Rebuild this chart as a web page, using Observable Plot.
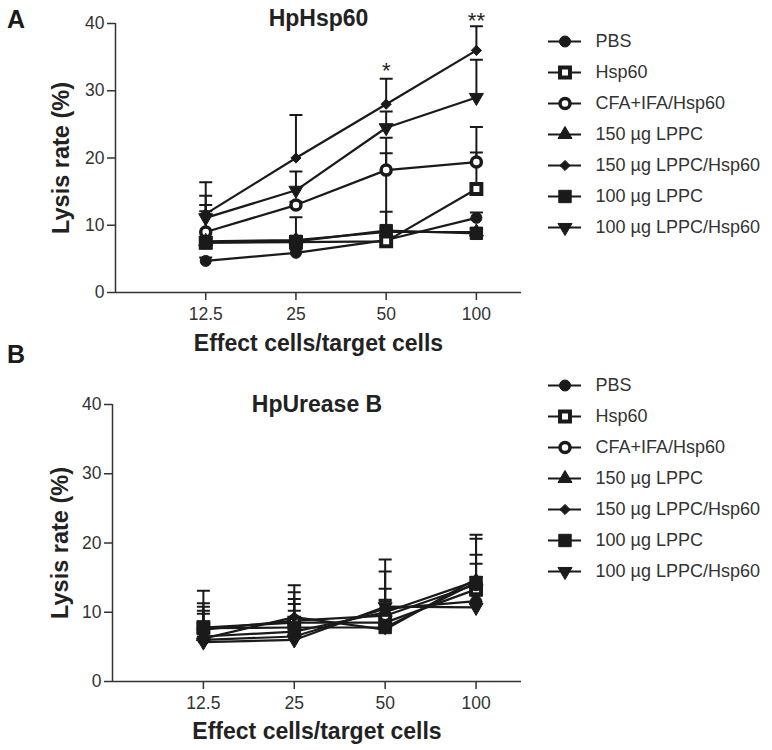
<!DOCTYPE html>
<html><head><meta charset="utf-8">
<script src="https://cdn.jsdelivr.net/npm/d3@7"></script>
<script src="https://cdn.jsdelivr.net/npm/@observablehq/plot@0.6"></script>
<style>
body{margin:0;background:#fff;font-family:"Liberation Sans",Arial,sans-serif;}
#wrap{position:relative;width:772px;height:750px;overflow:hidden;}
.abs{position:absolute;}
.letter{font-weight:bold;font-size:25px;line-height:1;color:#1a1a1a;}
svg{font-family:"Liberation Sans",Arial,sans-serif;}
</style></head><body>
<div id="wrap"></div>
<script>
// ---------- data ----------
const seriesNames = ["PBS", "Hsp60", "CFA+IFA/Hsp60", "150 µg LPPC", "150 µg LPPC/Hsp60", "100 µg LPPC", "100 µg LPPC/Hsp60"];
const ratios = [12.5, 25, 50, 100];
const ratioLabels = ["12.5", "25", "50", "100"];
const yTicks = [0, 10, 20, 30, 40];
const panelTitles = ["HpHsp60", "HpUrease B"];
const xLabel = "Effect cells/target cells";
const yLabel = "Lysis rate (%)";

// Panel A (HpHsp60): mean lysis rate per series at each ratio
const valuesA = [
  [4.7, 5.9, 7.8, 11.1],   // PBS
  [7.4, 7.5, 7.6, 15.4],   // Hsp60
  [9.0, 13.0, 18.2, 19.4], // CFA+IFA/Hsp60
  [7.6, 7.8, 9.0, 9.0],    // 150 µg LPPC
  [11.7, 20.0, 28.0, 36.0],// 150 µg LPPC/Hsp60
  [7.4, 7.6, 9.2, 8.8],    // 100 µg LPPC
  [11.1, 15.2, 24.5, 29.0] // 100 µg LPPC/Hsp60
];
const errorsA = [
  [0.5, 0.5, 0.5, 0.8],
  [0.5, 0.5, 13.1, 5.4],
  [4.0, 0.5, 4.8, 5.2],
  [0.5, 0.5, 0.5, 0.5],
  [4.7, 6.4, 3.8, 3.6],
  [4.7, 3.6, 2.8, 0.8],
  [3.3, 2.8, 2.4, 5.6]
];
// Panel B (HpUrease B)
const valuesB = [
  [6.0, 6.5, 10.5, 11.6],
  [7.8, 8.5, 8.5, 13.3],
  [7.5, 8.8, 9.5, 14.0],
  [6.5, 7.2, 10.0, 14.5],
  [6.2, 9.3, 7.5, 14.8],
  [7.7, 7.8, 7.8, 14.3],
  [5.7, 6.0, 10.8, 10.7]
];
const errorsB = [
  [4.2, 3.7, 2.9, 0.8],
  [5.3, 5.4, 9.1, 7.9],
  [3.8, 4.1, 6.4, 6.6],
  [3.3, 4.0, 1.8, 3.8],
  [4.6, 2.6, 1.0, 2.2],
  [1.0, 0.8, 0.8, 0.8],
  [0.8, 0.8, 0.8, 0.8]
];
// significance marks (panel A)
const starRatios = [50, 100];
const starValues = [33.0, 40.4];
const starLabels = ["*", "**"];

// ---------- styles ----------
const ink = "#1a1a1a";
const markerStyles = [
  {symbol: "circle", fill: ink, stroke: ink, strokeWidth: 1, r: 5.5},
  {symbol: "square", fill: "white", stroke: ink, strokeWidth: 4, r: 5.6},
  {symbol: "circle", fill: "white", stroke: ink, strokeWidth: 3.5, r: 5},
  {symbol: "triangle", fill: ink, stroke: ink, strokeWidth: 1, r: 5.2},
  {symbol: "diamond2", fill: ink, stroke: ink, strokeWidth: 1, r: 4.6},
  {symbol: "square", fill: ink, stroke: ink, strokeWidth: 1, r: 7},
  {symbol: "triangle", fill: ink, stroke: ink, strokeWidth: 1, r: 5.2, rotate: 180}
];
const capSymbol = {draw(ctx) { ctx.moveTo(-6.5, 0); ctx.lineTo(6.5, 0); ctx.closePath(); }};

const xDomain = [6.25, 141.42];
const wrap = document.getElementById("wrap");

function place(el, left, top) {
  el.classList.add("abs");
  el.style.left = left + "px";
  el.style.top = top + "px";
  wrap.appendChild(el);
}

function panel(values, errors, title, opts) {
  const rows = seriesNames.flatMap((s, i) => ratios.map((x, j) => ({series: s, idx: i, x, y: values[i][j], err: errors[i][j]})));
  const marks = [
    Plot.ruleX([xDomain[0]], {stroke: "#333", strokeWidth: 1.5}),
    Plot.ruleY([0], {stroke: "#333", strokeWidth: 1.5}),
    Plot.axisY({ticks: yTicks, tickSize: 8, tickPadding: 3, fontSize: 17.5, color: "#333", strokeWidth: 1.5, label: null}),
    Plot.axisX({ticks: ratios, tickFormat: d => ratioLabels[ratios.indexOf(d)], tickSize: 8, tickPadding: 7, fontSize: 17.5, color: "#333", strokeWidth: 1.5, label: null}),
    Plot.text([xLabel], {frameAnchor: "bottom", lineAnchor: "middle", textAnchor: "middle", dy: opts.xLabelDy, fontSize: 23, fontWeight: "bold", fill: "#222"}),
    Plot.text([yLabel], {frameAnchor: "left", lineAnchor: "middle", textAnchor: "middle", dx: opts.yLabelDx, rotate: -90, fontSize: 23.5, fontWeight: "bold", fill: "#222"}),
    Plot.text([title], {frameAnchor: "top", lineAnchor: "middle", textAnchor: "middle", dy: opts.titleDy, fontSize: 23, fontWeight: "bold", fill: "#222"}),
    Plot.line(rows, {x: "x", y: "y", z: "series", stroke: ink, strokeWidth: 2.2}),
    Plot.ruleX(rows, {x: "x", y1: "y", y2: d => d.y + d.err, stroke: ink, strokeWidth: 2}),
    Plot.dot(rows, {x: "x", y: d => d.y + d.err, symbol: capSymbol, fill: "none", stroke: ink, strokeWidth: 2})
  ];
  seriesNames.forEach((s, i) => {
    const st = markerStyles[i];
    marks.push(Plot.dot(rows.filter(d => d.idx === i), {x: "x", y: "y", ...st}));
  });
  if (opts.stars) {
    marks.push(Plot.text(starLabels, {x: (d, i) => starRatios[i], y: (d, i) => starValues[i], text: d => d, fontSize: 22, fill: "#222"}));
  }
  return Plot.plot({
    width: 540, height: opts.height,
    marginLeft: opts.marginLeft, marginRight: 19, marginTop: opts.marginTop, marginBottom: opts.marginBottom,
    x: {type: "log", base: 2, domain: xDomain},
    y: {domain: [0, 40]},
    style: {background: "white", overflow: "visible"},
    marks
  });
}

function legend(height, top, bottom) {
  const marks = [
    Plot.ruleY(seriesNames, {y: d => d, x1: 0, x2: 1, stroke: ink, strokeWidth: 2.2}),
    Plot.text(seriesNames, {x: () => 1, y: d => d, text: d => d, textAnchor: "start", dx: 14, fontSize: 18, fill: "#333"})
  ];
  seriesNames.forEach((s, i) => {
    marks.push(Plot.dot([s], {x: () => 0.5, y: d => d, ...markerStyles[i]}));
  });
  return Plot.plot({
    width: 232, height,
    marginLeft: 8, marginRight: 191, marginTop: top, marginBottom: bottom,
    x: {domain: [0, 1], axis: null},
    y: {type: "point", domain: seriesNames, padding: 0, axis: null},
    style: {background: "transparent", overflow: "visible"},
    marks
  });
}

place(panel(valuesA, errorsA, panelTitles[0], {height: 365, marginLeft: 115, marginTop: 23, marginBottom: 73, xLabelDy: 51, yLabelDx: -54, titleDy: -5, stars: true}), 0, 0);
place(panel(valuesB, errorsB, panelTitles[1], {height: 385, marginLeft: 112, marginTop: 39, marginBottom: 69, xLabelDy: 50, yLabelDx: -52, titleDy: 0, stars: false}), 0, 365);
place(legend(260, 40, 33), 540, 0);
place(legend(240, 20, 34), 540, 365);

const la = document.createElement("div"); la.className = "letter"; la.textContent = "A"; place(la, 7, 7);
const lb = document.createElement("div"); lb.className = "letter"; lb.textContent = "B"; place(lb, 7, 342);
</script>
</body></html>
